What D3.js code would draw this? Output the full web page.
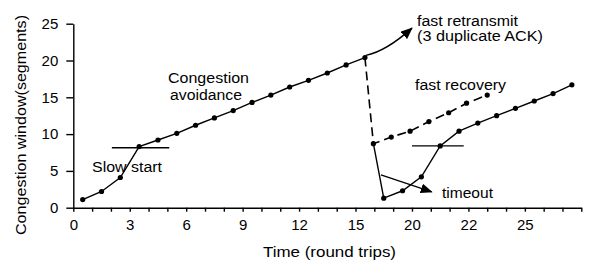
<!DOCTYPE html>
<html>
<head>
<meta charset="utf-8">
<script src="https://cdn.jsdelivr.net/npm/d3@7.9.0/dist/d3.min.js"></script>
<style>
  body { margin: 0; background: #fff; }
  svg { display: block; font-family: "Liberation Sans", Arial, sans-serif; }
  .axis path, .axis line { stroke: #000; stroke-width: 1.4; }
  .axis text { font-size: 15px; fill: #000; }
  .lbl { font-size: 15px; fill: #000; }
  .note { font-size: 14px; fill: #000; }
</style>
</head>
<body>
<svg id="chart" width="592" height="265"></svg>
<script>
// x tick positions (round trips) and the labels printed under them
const xTickPos = [0, 3, 6, 9, 12, 15, 18, 21, 24];
const xTickLabels = ['0', '3', '6', '9', '12', '15', '20', '22', '25'];
const yTicks = [0, 5, 10, 15, 20, 25];

// slow start + congestion avoidance
const firstX = [0.5, 1.5, 2.5, 3.5, 4.5, 5.5, 6.5, 7.5, 8.5, 9.5, 10.5, 11.5, 12.5, 13.5, 14.5, 15.5];
const firstY = [1.1, 2.2, 4.1, 8.3, 9.2, 10.1, 11.2, 12.2, 13.2, 14.3, 15.3, 16.4, 17.3, 18.3, 19.4, 20.4];

// fast retransmit / fast recovery (dashed)
const recoveryX = [15.95, 16.9, 17.9, 18.9, 19.95, 20.9, 22.0];
const recoveryY = [8.7, 9.6, 10.4, 11.7, 12.9, 14.2, 15.3];

// timeout -> slow start again
const timeoutX = [16.5, 17.5, 18.5, 19.5, 20.5, 21.5, 22.5, 23.5, 24.5, 25.5, 26.5];
const timeoutY = [1.3, 2.3, 4.2, 8.4, 10.4, 11.5, 12.5, 13.5, 14.5, 15.5, 16.7];

// ssthresh bars
const threshX1 = [2.05, 18.0];
const threshX2 = [5.1, 20.75];
const threshY = [8.15, 8.4];

const svg = d3.select('#chart');
const x = d3.scaleLinear().domain([0, 27]).range([73.3, 581.3]);
const y = d3.scaleLinear().domain([0, 25]).range([207.7, 23.7]);

const defs = svg.append('defs');
defs.append('marker')
  .attr('id', 'head')
  .attr('markerUnits', 'userSpaceOnUse')
  .attr('viewBox', '0 0 12 10')
  .attr('refX', 11).attr('refY', 5)
  .attr('markerWidth', 12).attr('markerHeight', 10)
  .attr('orient', 'auto')
  .append('path').attr('d', 'M0,0L12,5L0,10Z').attr('fill', '#000');

// axes
const xAxis = d3.axisBottom(x)
  .tickValues(d3.range(0, 28))
  .tickSize(4)
  .tickSizeOuter(0)
  .tickFormat(d => {
    const i = xTickPos.indexOf(d);
    return i >= 0 ? xTickLabels[i] : '';
  });
const gx = svg.append('g').attr('class', 'axis')
  .attr('transform', `translate(0,${y(0)})`)
  .call(xAxis);
gx.selectAll('text').attr('dy', null).attr('y', 22);

const yAxis = d3.axisLeft(y).tickValues(yTicks).tickSize(7).tickSizeOuter(0);
const gy = svg.append('g').attr('class', 'axis')
  .attr('transform', `translate(${x(0)},0)`)
  .call(yAxis);
gy.selectAll('text').attr('x', -15);

// axis titles
svg.append('text').attr('class', 'lbl')
  .attr('x', 263).attr('y', 257)
  .attr('textLength', 133).attr('lengthAdjust', 'spacingAndGlyphs')
  .text('Time (round trips)');
svg.append('text').attr('class', 'lbl')
  .attr('transform', 'translate(26,235) rotate(-90)')
  .attr('textLength', 220).attr('lengthAdjust', 'spacingAndGlyphs')
  .text('Congestion window(segments)');

const line = d3.line().x(d => x(d[0])).y(d => y(d[1]));
const firstPts = firstX.map((v, i) => [v, firstY[i]]);
const recPts = recoveryX.map((v, i) => [v, recoveryY[i]]);
const toPts = timeoutX.map((v, i) => [v, timeoutY[i]]);
const peak = firstPts[firstPts.length - 1];

// threshold bars
svg.selectAll('.thresh')
  .data(threshY)
  .join('line')
  .attr('x1', (d, i) => x(threshX1[i]))
  .attr('x2', (d, i) => x(threshX2[i]))
  .attr('y1', d => y(d)).attr('y2', d => y(d))
  .attr('stroke', '#000').attr('stroke-width', 1.4);

svg.append('path').attr('d', line(firstPts))
  .attr('fill', 'none').attr('stroke', '#000').attr('stroke-width', 1.4);
svg.append('path').attr('d', line([peak].concat(recPts)))
  .attr('fill', 'none').attr('stroke', '#000').attr('stroke-width', 1.6)
  .attr('stroke-dasharray', '9,5');
svg.append('path').attr('d', line([recPts[0]].concat(toPts)))
  .attr('fill', 'none').attr('stroke', '#000').attr('stroke-width', 1.4);

svg.selectAll('.dot')
  .data(firstPts.concat(recPts, toPts))
  .join('circle')
  .attr('cx', d => x(d[0])).attr('cy', d => y(d[1]))
  .attr('r', 2.6).attr('fill', '#000');

// arrows
const rs = [x(15.55), y(20.7)];
const re = [x(18.0), y(24.4)];
svg.append('path')
  .attr('d', `M${rs[0]},${rs[1]}Q${rs[0] + 20},${rs[1] - 4} ${re[0]},${re[1]}`)
  .attr('fill', 'none').attr('stroke', '#000').attr('stroke-width', 1.4)
  .attr('marker-end', 'url(#head)');
svg.append('line')
  .attr('x1', x(16.35)).attr('y1', y(4.45))
  .attr('x2', x(19.05)).attr('y2', y(2.15))
  .attr('stroke', '#000').attr('stroke-width', 1.4)
  .attr('marker-end', 'url(#head)');

// annotations
const notes = [
  { t: 'fast retransmit', x: 417, y: 26, w: 101 },
  { t: '(3 duplicate ACK)', x: 417, y: 40.5, w: 126 },
  { t: 'Congestion', x: 168, y: 83, w: 81 },
  { t: 'avoidance', x: 170, y: 100, w: 72 },
  { t: 'Slow start', x: 92, y: 171.5, w: 70 },
  { t: 'fast recovery', x: 415, y: 90, w: 91 },
  { t: 'timeout', x: 442, y: 198, w: 51 }
];
svg.selectAll('.note')
  .data(notes)
  .join('text')
  .attr('class', 'note')
  .attr('x', d => d.x).attr('y', d => d.y)
  .attr('textLength', d => d.w).attr('lengthAdjust', 'spacingAndGlyphs')
  .text(d => d.t);
</script>
</body>
</html>
